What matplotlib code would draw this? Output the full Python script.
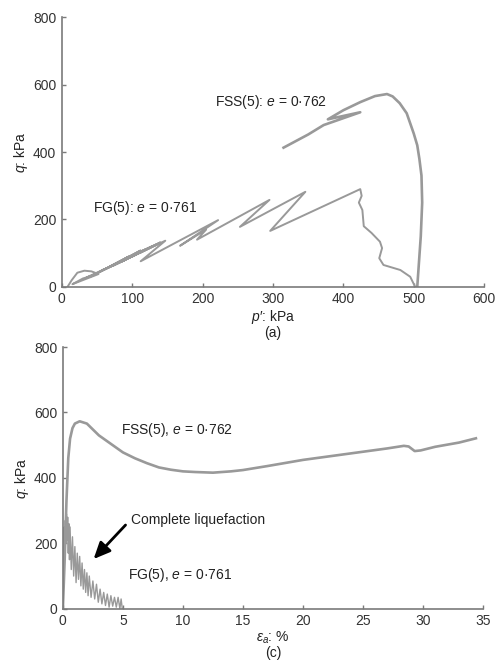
import matplotlib
matplotlib.use('Agg')
import matplotlib.pyplot as plt

plt.rcParams['font.family'] = ['Liberation Sans', 'DejaVu Sans']
plt.rcParams['mathtext.fontset'] = 'custom'
plt.rcParams['mathtext.rm'] = 'Liberation Sans'
plt.rcParams['mathtext.it'] = 'Liberation Sans:italic'

# (a) stress paths p' - q
fss_p = [505, 507, 510, 512, 511, 508, 505, 500, 490, 480, 470, 462, 445, 424, 400,
         378, 424, 372, 350, 315]
fss_q = [0, 60, 150, 250, 330, 380, 420, 455, 515, 545, 565, 572, 566, 548, 524,
         497, 518, 480, 452, 413]

fg_p = [8, 14, 22, 32, 42, 52, 15, 30, 45, 35, 60, 48, 75, 58, 90, 72, 105, 86, 120,
        100, 135, 110, 140, 95, 128, 80, 112, 68, 95, 55, 147, 112, 222, 168, 205, 192,
        295, 253, 346, 296, 424, 426, 422, 427, 429, 440, 452, 455, 451, 457, 481, 495,
        502]
fg_q = [0, 20, 42, 48, 46, 38, 8, 25, 34, 28, 52, 38, 66, 50, 80, 62, 96, 76, 112,
        90, 126, 100, 132, 88, 120, 72, 108, 60, 90, 46, 137, 76, 198, 122, 170, 140,
        258, 178, 282, 166, 290, 270, 250, 228, 180, 160, 134, 115, 85, 65, 50, 30, 0]

# (c) q vs axial strain
fss_ea = [0, 0.15, 0.3, 0.45, 0.6, 0.8, 1.0, 1.4, 2.0, 3.0, 4.0, 5.0, 6.0, 7.0, 8.0,
          9.0, 10.0, 11.0, 12.5, 14, 15, 17, 20, 22, 25, 27, 28.4, 28.8, 29.3, 29.8,
          31, 33, 34.4]
fss_qe = [0, 150, 330, 460, 520, 552, 566, 573, 566, 530, 504, 478, 460, 445, 432,
          425, 420, 418, 416, 420, 424, 436, 455, 465, 480, 490, 498, 496, 482, 484,
          495, 508, 521]

fg_ea = [0.0, 0.05, 0.1, 0.15, 0.2, 0.25, 0.3, 0.35, 0.4, 0.45, 0.5, 0.55, 0.6, 0.7,
         0.8, 0.9, 1.0, 1.1, 1.2, 1.3, 1.4, 1.5, 1.6, 1.7, 1.8, 1.9, 2.0, 2.1, 2.2,
         2.35, 2.5, 2.65, 2.8, 2.95, 3.1, 3.25, 3.4, 3.55, 3.7, 3.85, 4.0, 4.15, 4.3,
         4.45, 4.6, 4.75, 4.85, 4.95]
fg_qe = [0, 150, 250, 180, 270, 200, 290, 210, 280, 170, 260, 150, 250, 120, 220, 100,
         190, 80, 170, 90, 160, 70, 140, 60, 120, 50, 110, 40, 100, 35, 85, 30, 75, 20,
         60, 15, 50, 10, 45, 5, 40, 8, 35, 5, 35, 0, 30, 0]

line_col = '#999999'
axis_col = '#7a7a7a'
text_col = '#222222'
fs = 10

fig = plt.figure(figsize=(4.95, 6.61), dpi=100)
ax1 = fig.add_axes([0.125, 0.566, 0.853, 0.408])
ax2 = fig.add_axes([0.127, 0.079, 0.849, 0.396])


def style(ax):
    for s in ['top', 'right']:
        ax.spines[s].set_visible(False)
    for s in ['left', 'bottom']:
        ax.spines[s].set_color(axis_col)
        ax.spines[s].set_linewidth(1.2)
    ax.tick_params(direction='in', length=3, width=1, color=axis_col,
                   labelsize=fs, labelcolor='#333333', pad=4)


ax1.plot(fss_p, fss_q, color=line_col, lw=1.9)
ax1.plot(fg_p, fg_q, color=line_col, lw=1.4)
ax1.set_xlim(0, 600)
ax1.set_ylim(0, 800)
ax1.set_xticks(range(0, 601, 100))
ax1.set_yticks(range(0, 801, 200))
style(ax1)
ax1.set_ylabel('$q$: kPa', fontsize=fs, color=text_col, labelpad=2)
ax1.set_xlabel("$p$\u2032: kPa\n(a)", fontsize=fs, color=text_col, labelpad=1,
               linespacing=1.0)
ax1.text(218, 549, 'FSS(5): $e$ = 0·762', fontsize=fs, color=text_col, va='center')
ax1.text(44, 233, 'FG(5): $e$ = 0·761', fontsize=fs, color=text_col, va='center')

ax2.plot(fss_ea, fss_qe, color=line_col, lw=1.9)
ax2.plot(fg_ea, fg_qe, color=line_col, lw=1.0)
ax2.set_xlim(0, 35)
ax2.set_ylim(0, 800)
ax2.set_xticks(range(0, 36, 5))
ax2.set_yticks(range(0, 801, 200))
style(ax2)
ax2.set_ylabel('$q$: kPa', fontsize=fs, color=text_col, labelpad=2)
ax2.set_xlabel('$\\varepsilon_a$: %\n(c)', fontsize=fs, color=text_col, labelpad=1,
               linespacing=1.0)
ax2.text(4.87, 547, 'FSS(5), $e$ = 0·762', fontsize=fs, color=text_col, va='center')
ax2.text(5.42, 104, 'FG(5), $e$ = 0·761', fontsize=fs, color=text_col, va='center')
ax2.annotate('', xy=(2.56, 152), xytext=(5.22, 256),
             arrowprops=dict(arrowstyle='-|>,head_length=1.0,head_width=0.45',
                             color='black', lw=2, shrinkA=0, shrinkB=0))
ax2.text(5.7, 272, 'Complete liquefaction', fontsize=fs, color=text_col, va='center')

fig.savefig('out.png', dpi=100)
